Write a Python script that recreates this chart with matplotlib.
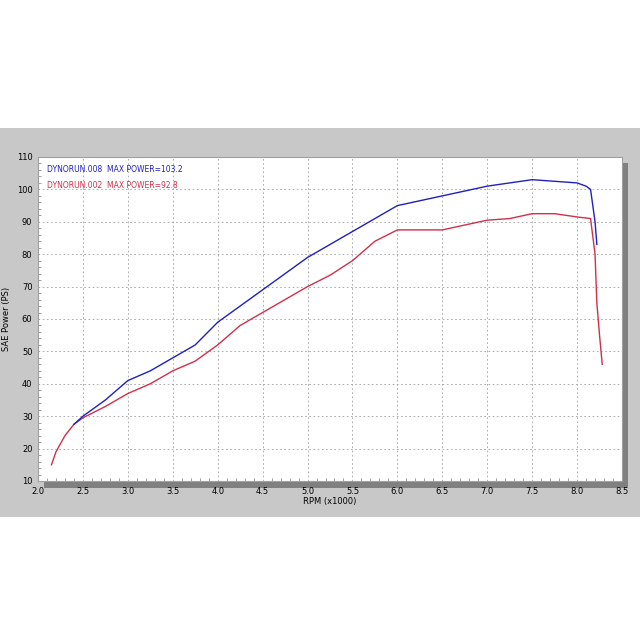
import numpy as np
import matplotlib.pyplot as plt
from matplotlib.patches import Rectangle

# dyno readings
rpm_red = [2.15, 2.2, 2.3, 2.4, 2.5, 2.75, 3.0, 3.25, 3.5, 3.75, 4.0, 4.25, 4.5, 4.75, 5.0,
           5.25, 5.5, 5.75, 6.0, 6.25, 6.5, 6.75, 7.0, 7.25, 7.5, 7.75, 8.0, 8.15, 8.2, 8.22, 8.25, 8.28]
ps_red = [15, 19, 24, 27.5, 29.5, 33, 37, 40, 44, 47, 52, 58, 62, 66, 70,
          73.5, 78, 84, 87.5, 87.5, 87.5, 89, 90.5, 91, 92.5, 92.5, 91.5, 91, 80, 65, 55, 46]
rpm_blue = [2.4, 2.5, 2.75, 3.0, 3.25, 3.5, 3.75, 4.0, 4.25, 4.5, 4.75, 5.0, 5.25, 5.5, 5.75,
            6.0, 6.25, 6.5, 6.75, 7.0, 7.25, 7.5, 7.75, 8.0, 8.1, 8.15, 8.2, 8.22]
ps_blue = [27.5, 30, 35, 41, 44, 48, 52, 59, 64, 69, 74, 79, 83, 87, 91,
           95, 96.5, 98, 99.5, 101, 102, 103, 102.5, 102, 101, 100, 90, 83]

fig = plt.figure(figsize=(6.4, 6.4), dpi=100)
fig.patch.set_facecolor('white')
fig.add_artist(Rectangle((0, 1 - 517/640), 1, 389/640, transform=fig.transFigure,
                         facecolor='#c8c8c8', edgecolor='none', zorder=-2))
# shadow behind plot area
fig.add_artist(Rectangle((44/640, 1 - 488/640), 584/640, 325/640, transform=fig.transFigure,
                         facecolor='#808080', edgecolor='none', zorder=-1))

ax = fig.add_axes([38/640, 1 - 481/640, 584/640, 324/640])
ax.set_facecolor('white')
ax.plot(rpm_red, ps_red, color='#d0304a', lw=1.0)
ax.plot(rpm_blue, ps_blue, color='#2020c0', lw=1.0)
ax.set_xlim(2.0, 8.5)
ax.set_ylim(10, 110)
ax.set_xticks(np.arange(2.0, 8.51, 0.5))
ax.set_yticks(np.arange(10, 111, 10))
ax.set_xticks(np.arange(2.0, 8.5, 0.1), minor=True)
ax.set_yticks(np.arange(10, 110, 2), minor=True)
ax.grid(True, ls=(0, (2, 3)), color='#a0a0a0', lw=0.6)
ax.tick_params(labelsize=6, length=0, which='both', pad=4)
ax.tick_params(which='minor', direction='in', length=2, color='#909090')
for s in ax.spines.values():
    s.set_color('#a0a0a0')
ax.set_xlabel('RPM (x1000)', fontsize=6, labelpad=1)
ax.set_ylabel('SAE Power (PS)', fontsize=6, labelpad=4)
ax.text(0.015, 0.955, 'DYNORUN.008  MAX POWER=103.2', transform=ax.transAxes,
        color='#2020c0', fontsize=5.5)
ax.text(0.015, 0.905, 'DYNORUN.002  MAX POWER=92.8', transform=ax.transAxes,
        color='#d0304a', fontsize=5.5)

plt.savefig('out.png', dpi=100)
